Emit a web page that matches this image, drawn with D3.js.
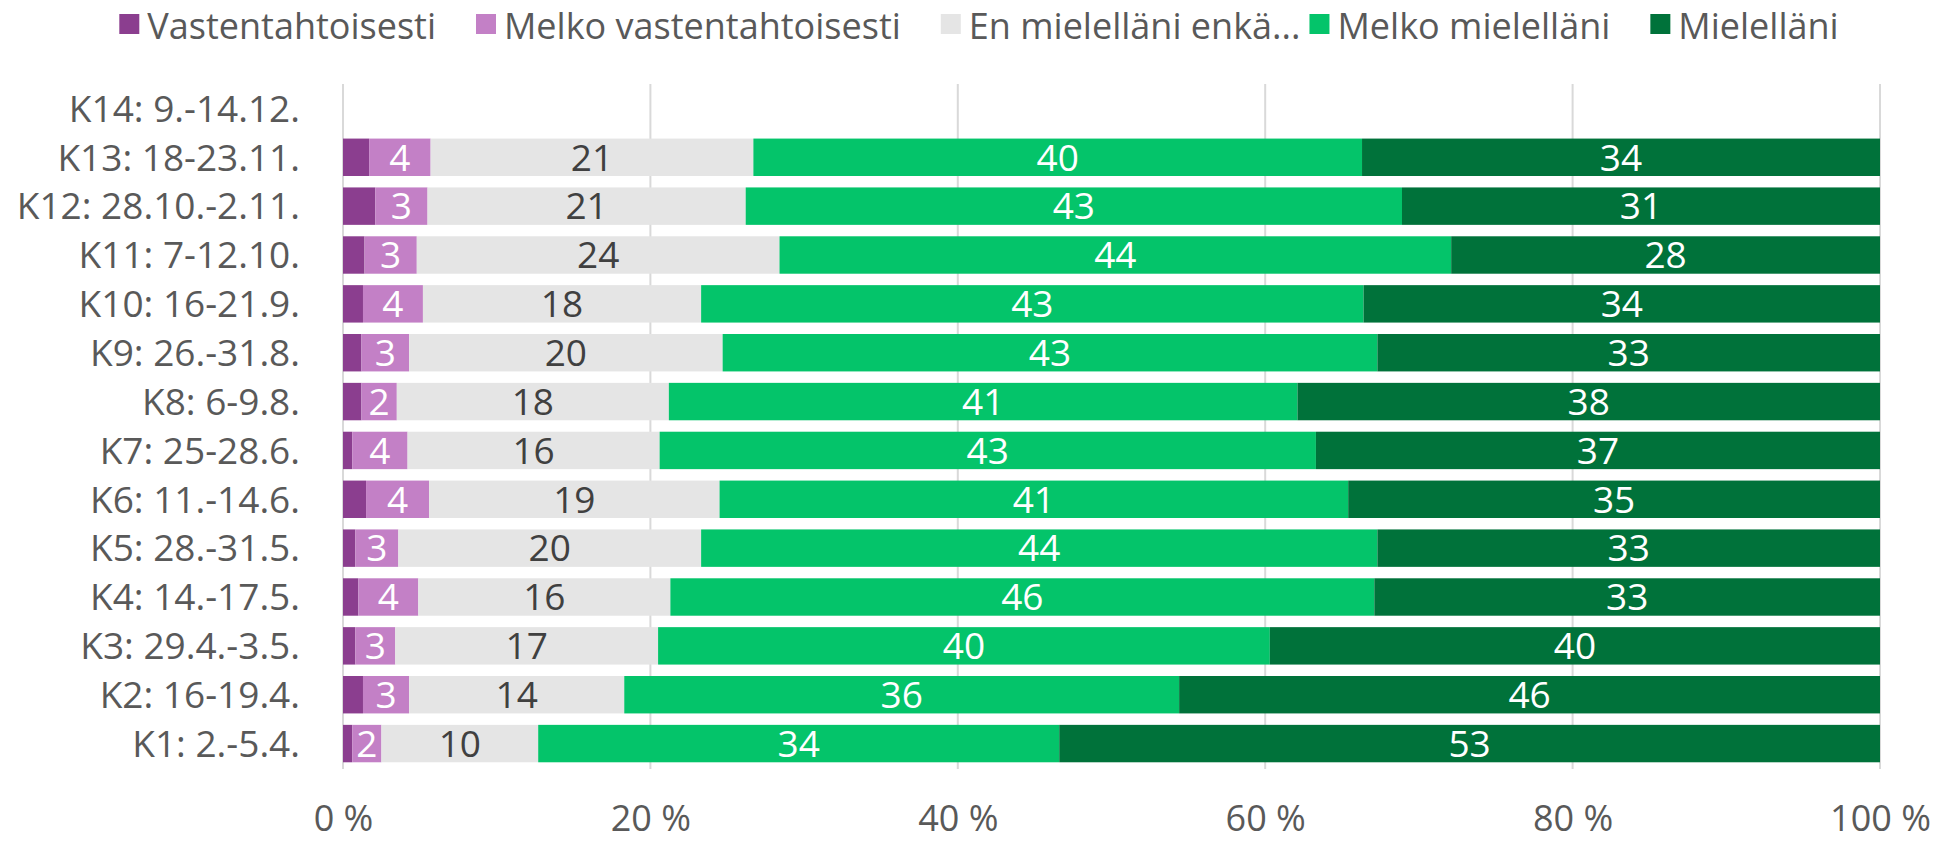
<!DOCTYPE html>
<html>
<head>
<meta charset="utf-8">
<script src="https://cdn.jsdelivr.net/npm/d3@7"></script>
<style>
  body { margin: 0; background: #fff; }
  text { font-family: "Open Sans", sans-serif; }
</style>
</head>
<body>
<div id="chart"></div>
<script>
// Categories, bottom to top as in the source sheet
const categories = [
  'K1: 2.-5.4.', 'K2: 16-19.4.', 'K3: 29.4.-3.5.', 'K4: 14.-17.5.', 'K5: 28.-31.5.',
  'K6: 11.-14.6.', 'K7: 25-28.6.', 'K8: 6-9.8.', 'K9: 26.-31.8.', 'K10: 16-21.9.',
  'K11: 7-12.10.', 'K12: 28.10.-2.11.', 'K13: 18-23.11.', 'K14: 9.-14.12.'
];
const seriesKeys = ['vastentahtoisesti', 'melkoVastentahtoisesti', 'enMielellani', 'melkoMielellani', 'mielellani'];
const legendLabels = ['Vastentahtoisesti', 'Melko vastentahtoisesti', 'En mielelläni enkä...', 'Melko mielelläni', 'Mielelläni'];
const colors = ['#8b3e8f', '#c380c6', '#e5e5e5', '#04c46a', '#00723a'];
const labelColors = [null, '#ffffff', '#404040', '#ffffff', '#ffffff'];

// percentages (K14 has no data yet)
const vastentahtoisesti      = [0.6, 1.3, 0.8, 1.0, 0.8, 1.5, 0.6, 1.2, 1.2, 1.3, 1.4, 2.1, 1.7, 0];
const melkoVastentahtoisesti = [1.9, 3.0, 2.6, 3.9, 2.8, 4.1, 3.6, 2.3, 3.1, 3.9, 3.4, 3.4, 4.0, 0];
const enMielellani           = [10.2, 14.0, 17.1, 16.4, 19.7, 18.9, 16.4, 17.7, 20.4, 18.1, 23.6, 20.7, 21.0, 0];
const melkoMielellani        = [33.9, 36.1, 39.8, 45.8, 44.0, 40.9, 42.7, 40.9, 42.6, 43.1, 43.7, 42.7, 39.6, 0];
const mielellani             = [53.4, 45.6, 39.7, 32.9, 32.7, 34.6, 36.7, 37.9, 32.7, 33.6, 27.9, 31.1, 33.7, 0];
const xTicks = [0, 20, 40, 60, 80, 100];

const series = { vastentahtoisesti, melkoVastentahtoisesti, enMielellani, melkoMielellani, mielellani };
const rows = categories.map((c, i) => {
  const r = { cat: c };
  seriesKeys.forEach(k => r[k] = series[k][i]);
  return r;
});

const W = 1939, H = 841;
const margin = {top: 84, right: 59, bottom: 73, left: 343};

const svg = d3.select('#chart').append('svg')
  .attr('width', W)
  .attr('height', H);

const x = d3.scaleLinear()
  .domain([0, 100])
  .range([margin.left, W - margin.right]);

const y = d3.scaleBand()
  .domain(categories.slice().reverse())
  .range([margin.top, H - margin.bottom])
  .paddingInner(0.234)
  .paddingOuter(0.117);

// gridlines
svg.append('g')
  .selectAll('line')
  .data(xTicks)
  .join('line')
    .attr('x1', d => x(d))
    .attr('x2', d => x(d))
    .attr('y1', margin.top)
    .attr('y2', H - margin.bottom + 1)
    .attr('stroke', '#d9d9d9')
    .attr('stroke-width', 2);

// stacked bars
const stacked = d3.stack().keys(seriesKeys)(rows);

const layer = svg.append('g')
  .selectAll('g')
  .data(stacked)
  .join('g')
    .attr('fill', (d, i) => colors[i]);

layer.selectAll('rect')
  .data(d => d.filter(p => p[1] - p[0] > 0))
  .join('rect')
    .attr('x', d => x(d[0]))
    .attr('y', d => y(d.data.cat))
    .attr('width', d => x(d[1]) - x(d[0]))
    .attr('height', y.bandwidth());

// data labels (not on the first series)
layer.filter((d, i) => labelColors[i])
  .each(function(s) {
    const idx = seriesKeys.indexOf(s.key);
    d3.select(this).selectAll('text')
      .data(s.filter(p => p[1] - p[0] > 0))
      .join('text')
        .attr('x', d => x((d[0] + d[1]) / 2))
        .attr('y', d => y(d.data.cat) + y.bandwidth() / 2)
        .attr('dy', '0.36em')
        .attr('text-anchor', 'middle')
        .attr('fill', labelColors[idx])
        .style('font-size', '37px')
        .text(d => d3.format('.0f')(d[1] - d[0]));
  });

// category labels
svg.append('g')
  .selectAll('text')
  .data(categories)
  .join('text')
    .attr('x', margin.left - 43)
    .attr('y', d => y(d) + y.bandwidth() / 2)
    .attr('dy', '0.36em')
    .attr('text-anchor', 'end')
    .attr('fill', '#595959')
    .style('font-size', '37px')
    .text(d => d);

// x axis
const xAxis = svg.append('g')
  .attr('transform', `translate(0,${H - margin.bottom})`)
  .call(d3.axisBottom(x).tickValues(xTicks).tickSize(0).tickPadding(37).tickFormat(d => d + ' %'));
xAxis.select('.domain').remove();
xAxis.selectAll('text')
  .attr('fill', '#595959')
  .style('font-size', '36px')
  .style('font-family', '"Open Sans", sans-serif');

// legend
const legend = svg.append('g');
let lx = 0;
legendLabels.forEach((label, i) => {
  const item = legend.append('g').attr('transform', `translate(${lx},0)`);
  item.append('rect')
    .attr('x', 0).attr('y', 14)
    .attr('width', 20).attr('height', 20)
    .attr('fill', colors[i]);
  const t = item.append('text')
    .attr('x', 28)
    .attr('y', 26)
    .attr('dy', '0.36em')
    .attr('fill', '#595959')
    .style('font-size', '36px')
    .text(label);
  const gap = label.endsWith('...') ? 9 : 40;
  lx += 28 + t.node().getComputedTextLength() + gap;
});
const legendWidth = lx - 40;
legend.attr('transform', `translate(${979 - legendWidth / 2},0)`);
</script>
</body>
</html>
